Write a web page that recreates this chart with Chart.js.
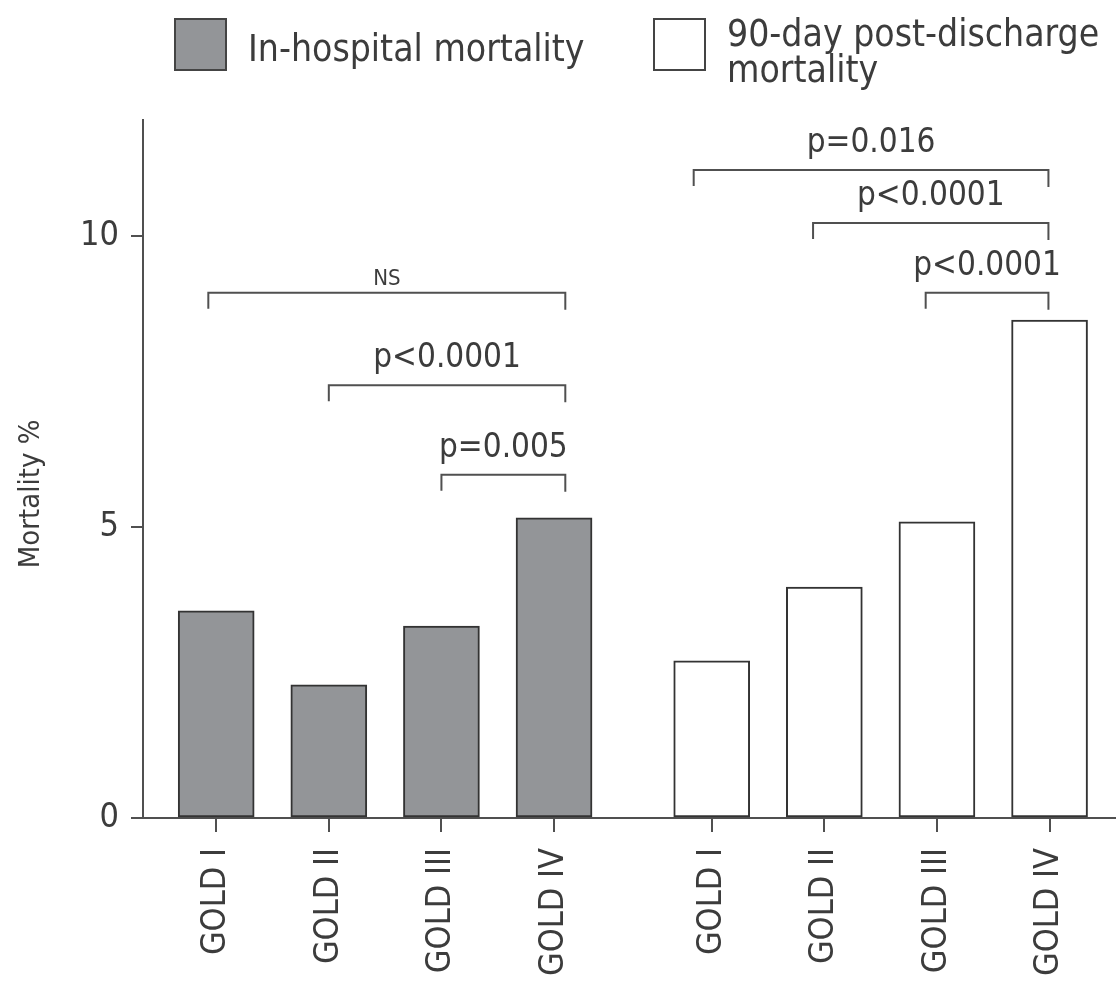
<!DOCTYPE html>
<html>
<head>
<meta charset="utf-8">
<script src="https://cdn.jsdelivr.net/npm/chart.js@4.4.1/dist/chart.umd.min.js"></script>
<style>
  body { margin: 0; background: #fff; }
  .wrap { position: relative; width: 1116px; height: 981px; }
  canvas { position: absolute; left: 0; top: 0; }
  .legend { position: absolute; white-space: nowrap; font-family: "DejaVu Sans Condensed", "DejaVu Sans", sans-serif; color: #3c3c3c; font-size: 37px; line-height: 36px; }
  .swatch { position: absolute; width: 49px; height: 49px; border: 2px solid #444; }
</style>
</head>
<body>
<div class="wrap">
  <canvas id="chart" width="1116" height="981"></canvas>
  <div class="swatch" style="left:174px; top:18px; background:#939598;"></div>
  <div class="legend" style="left:248px; top:31px;">In-hospital mortality</div>
  <div class="swatch" style="left:653px; top:18px; background:#fff;"></div>
  <div class="legend" style="left:727px; top:16px;">90-day post-discharge<br>mortality</div>
</div>
<script>
const stages = ["GOLD I", "GOLD II", "GOLD III", "GOLD IV"];

const inHospitalX = [1, 2, 3, 4];
const postDischargeX = [5.4, 6.4, 7.4, 8.4];

const inHospital = [3.56, 2.29, 3.3, 5.16];
const postDischarge = [2.7, 3.97, 5.09, 8.56];

const yTicks = [0, 5, 10];

// significance brackets (x in axis units, level in %)
const bracketLabels = ["NS", "p<0.0001", "p=0.005", "p=0.016", "p<0.0001", "p<0.0001"];
const bracketFrom = [0.93, 2.0, 3.0, 5.24, 6.3, 7.3];
const bracketTo = [4.1, 4.1, 4.1, 8.39, 8.39, 8.39];
const bracketLevel = [9.03, 7.44, 5.9, 11.14, 10.23, 9.03];

const FONT = "'DejaVu Sans Condensed', 'DejaVu Sans', sans-serif";
const INK = "#3c3c3c";
const LINE = "#505050";

const tickPositions = [...inHospitalX, ...postDischargeX];
const tickLabels = [...stages, ...stages];

const bracketPlugin = {
  id: "brackets",
  afterDatasetsDraw(chart) {
    const { ctx, scales } = chart;
    const x = scales.x;
    const y = scales.y;
    ctx.save();
    ctx.strokeStyle = LINE;
    ctx.lineWidth = 2;
    ctx.fillStyle = INK;
    ctx.textAlign = "center";
    ctx.textBaseline = "alphabetic";
    bracketLabels.forEach((label, i) => {
      const x1 = x.getPixelForValue(bracketFrom[i]);
      const x2 = x.getPixelForValue(bracketTo[i]);
      const yy = y.getPixelForValue(bracketLevel[i]);
      ctx.beginPath();
      ctx.moveTo(x1, yy + 16);
      ctx.lineTo(x1, yy);
      ctx.lineTo(x2, yy);
      ctx.lineTo(x2, yy + 17);
      ctx.stroke();
      const small = label === "NS";
      ctx.font = (small ? "22px " : "33px ") + FONT;
      ctx.fillText(label, (x1 + x2) / 2, yy - (small ? 8 : 18));
    });
    ctx.restore();
  },
};

new Chart(document.getElementById("chart"), {
  type: "bar",
  data: {
    datasets: [
      {
        label: "In-hospital mortality",
        data: inHospital.map((v, i) => ({ x: inHospitalX[i], y: v })),
        backgroundColor: "#939598",
        borderColor: "#333333",
        borderWidth: 2,
        borderSkipped: false,
        barThickness: 76,
      },
      {
        label: "90-day post-discharge mortality",
        data: postDischarge.map((v, i) => ({ x: postDischargeX[i], y: v })),
        backgroundColor: "#ffffff",
        borderColor: "#333333",
        borderWidth: 2,
        borderSkipped: false,
        barThickness: 76,
      },
    ],
  },
  options: {
    responsive: false,
    animation: false,
    grouped: false,
    layout: { padding: { top: 120, right: 0, left: 0, bottom: 0 } },
    plugins: {
      legend: { display: false },
      tooltip: { enabled: false },
    },
    scales: {
      x: {
        type: "linear",
        offset: false,
        min: 0.35,
        max: 8.99,
        afterBuildTicks: (scale) => {
          scale.ticks = tickPositions.map((v) => ({ value: v }));
        },
        afterFit: (scale) => {
          scale.height = 163;
        },
        grid: {
          offset: false,
          drawOnChartArea: false,
          drawTicks: true,
          tickLength: 14,
          color: LINE,
          lineWidth: 2,
        },
        border: { display: true, color: LINE, width: 2 },
        ticks: {
          autoSkip: false,
          minRotation: 90,
          maxRotation: 90,
          padding: 16,
          color: INK,
          font: { family: FONT, size: 34 },
          callback: (value, index) => tickLabels[index],
        },
      },
      y: {
        min: 0,
        max: 12,
        afterBuildTicks: (scale) => {
          scale.ticks = yTicks.map((v) => ({ value: v }));
        },
        afterFit: (scale) => {
          scale.width = 143;
        },
        grid: {
          drawOnChartArea: false,
          drawTicks: true,
          tickLength: 12,
          color: LINE,
          lineWidth: 2,
        },
        border: { display: true, color: LINE, width: 2 },
        ticks: {
          padding: 12,
          color: INK,
          font: { family: FONT, size: 34 },
        },
        title: {
          display: true,
          text: "Mortality %" + "\u00a0".repeat(6),
          color: INK,
          padding: { top: 14, bottom: 0 },
          font: { family: FONT, size: 29 },
        },
      },
    },
  },
  plugins: [bracketPlugin],
});
</script>
</body>
</html>
